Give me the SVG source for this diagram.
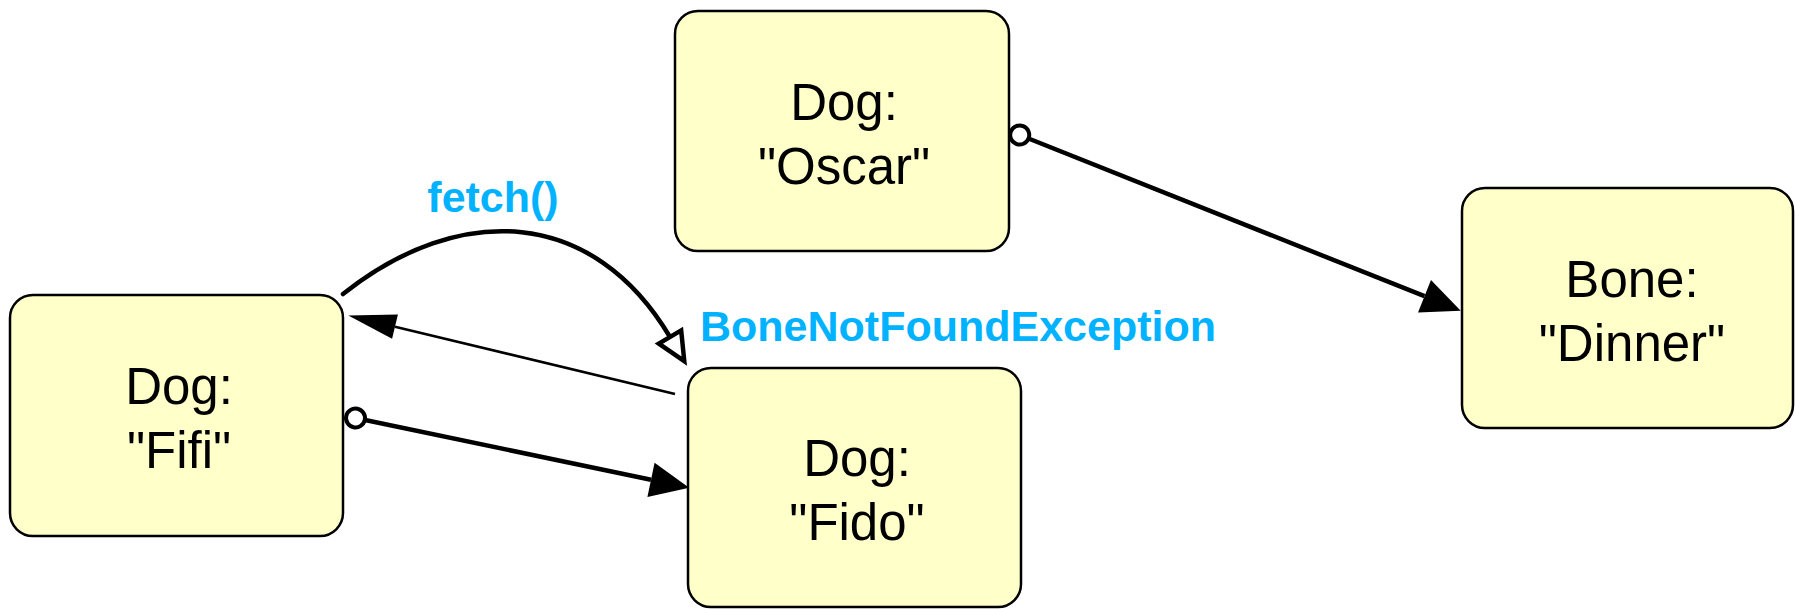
<svg xmlns="http://www.w3.org/2000/svg" width="1795" height="609" viewBox="0 0 1795 609">
  <style>
    .box { fill: #FFFFC9; stroke: #000; stroke-width: 2.5; }
    .name { font-family: "Liberation Sans", Arial, sans-serif; font-size: 51px; fill: #000; text-anchor: middle; }
    .msg { font-family: "Liberation Sans", Arial, sans-serif; font-size: 43px; font-weight: bold; fill: #00B2FF; }
    .link { fill: none; stroke: #000; stroke-width: 4.5; }
    .thin { fill: none; stroke: #000; stroke-width: 2.5; }
  </style>
  <defs>
    <!-- filled head for thick links, origin at the base centre -->
    <marker id="headBig" markerUnits="userSpaceOnUse" orient="auto" overflow="visible" markerWidth="44" markerHeight="44" refX="0" refY="0">
      <path d="M0,-17.5 L39,0 L0,17.5 Z" fill="#000"/>
    </marker>
    <!-- slender filled head for the return link -->
    <marker id="headThin" markerUnits="userSpaceOnUse" orient="auto" overflow="visible" markerWidth="50" markerHeight="30" refX="0" refY="0">
      <path d="M0,-12.5 L48,0 L0,12.5 Z" fill="#000"/>
    </marker>
    <!-- open head for the message arc -->
    <marker id="headOpen" markerUnits="userSpaceOnUse" orient="auto" overflow="visible" markerWidth="40" markerHeight="40" refX="0" refY="0">
      <path d="M0,-13 L28,0 L0,13 Z" fill="#fff" stroke="#000" stroke-width="4.5" stroke-linejoin="miter"/>
    </marker>
    <!-- small ring at the source end -->
    <marker id="ring" markerUnits="userSpaceOnUse" orient="auto" overflow="visible" markerWidth="26" markerHeight="26" refX="0" refY="0">
      <circle cx="0" cy="0" r="9.5" fill="#fff" stroke="#000" stroke-width="4"/>
    </marker>
  </defs>

  <g id="connectors">
    <!-- Fifi to Fido link -->
    <path class="link" d="M355.5,418 L651,479.8" marker-start="url(#ring)" marker-end="url(#headBig)"/>
    <!-- Oscar to Bone link -->
    <path class="link" d="M1019.7,135 L1424.5,296.2" marker-start="url(#ring)" marker-end="url(#headBig)"/>
    <!-- fetch() call arc -->
    <path class="link" stroke-linecap="round" d="M343,294 C460,201 593.5,208 670,337" marker-end="url(#headOpen)"/>
    <!-- exception returned to Fifi -->
    <path class="thin" d="M675,394 L395,326.7" marker-end="url(#headThin)"/>
    <text class="msg" x="493" y="212" text-anchor="middle">fetch()</text>
    <text class="msg" x="700" y="341">BoneNotFoundException</text>
  </g>

  <g id="fifi">
    <rect class="box" x="10" y="295" width="333" height="241" rx="23" ry="23"/>
    <text class="name" x="179" y="404">Dog:</text>
    <text class="name" x="179" y="468">"Fifi"</text>
  </g>

  <g id="oscar">
    <rect class="box" x="675" y="11" width="334" height="240" rx="23" ry="23"/>
    <text class="name" x="844" y="120">Dog:</text>
    <text class="name" x="844" y="184">"Oscar"</text>
  </g>

  <g id="fido">
    <rect class="box" x="688" y="368" width="333" height="239" rx="23" ry="23"/>
    <text class="name" x="857" y="476">Dog:</text>
    <text class="name" x="857" y="540">"Fido"</text>
  </g>

  <g id="bone">
    <rect class="box" x="1462" y="188" width="331" height="240" rx="23" ry="23"/>
    <text class="name" x="1632" y="297">Bone:</text>
    <text class="name" x="1632" y="361">"Dinner"</text>
  </g>
</svg>
